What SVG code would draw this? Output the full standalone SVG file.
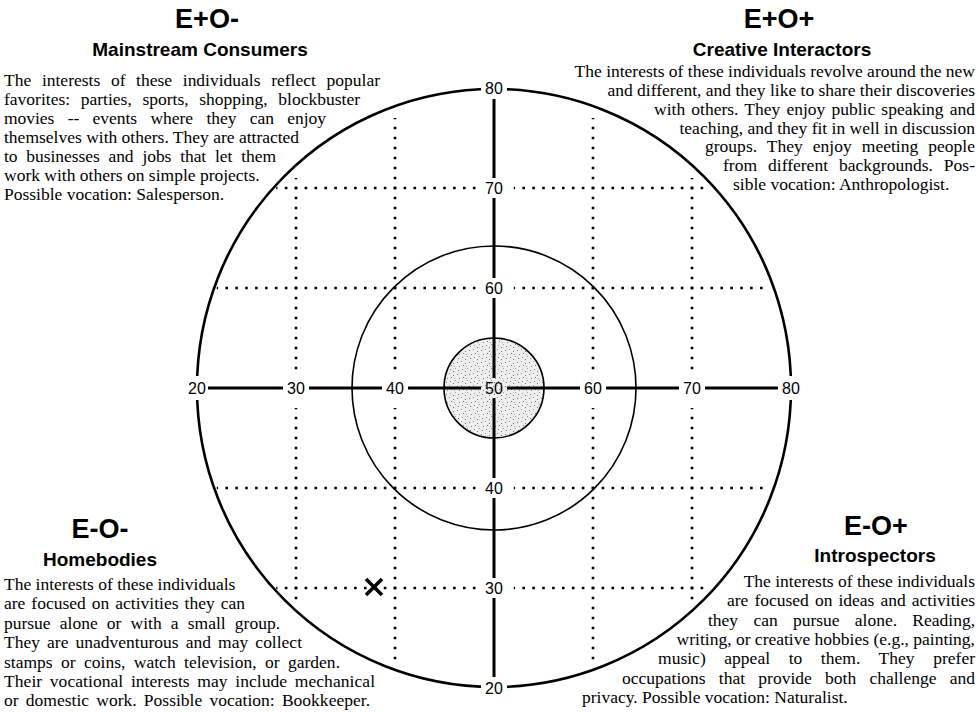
<svg xmlns="http://www.w3.org/2000/svg" width="979" height="712" viewBox="0 0 979 712">
<defs>
<style>
.t{font-family:"Liberation Sans",Arial,sans-serif;font-family:"Liberation Serif","Times New Roman",serif;font-size:17.5px;fill:#000}
.e{text-anchor:end}
.h1{font-family:"Liberation Sans",Arial,sans-serif;font-weight:bold;font-size:27px;text-anchor:middle;fill:#000}
.h2{font-family:"Liberation Sans",Arial,sans-serif;font-weight:bold;font-size:19px;text-anchor:middle;fill:#000}
.n{font-family:"Liberation Sans",Arial,sans-serif;font-size:16px;text-anchor:middle;fill:#000}
.ax{stroke:#000;stroke-width:3;fill:none}
.ring{stroke:#000;fill:none}
.dv{stroke:#000;stroke-width:2.6;stroke-dasharray:2.6 7.4;stroke-dashoffset:1.3;fill:none}
.dh{stroke:#000;stroke-width:2.6;stroke-dasharray:2.6 7.3;stroke-dashoffset:1.3;fill:none}
.gap{fill:#fff}
</style>
<pattern id="stip" width="12" height="12" patternUnits="userSpaceOnUse">
<rect width="12" height="12" fill="#eeeeee"/>
<rect x="1" y="2" width="1" height="1" fill="#777"/>
<rect x="5" y="1" width="1" height="1" fill="#999"/>
<rect x="9" y="3" width="1" height="1" fill="#777"/>
<rect x="3" y="6" width="1" height="1" fill="#888"/>
<rect x="7" y="5" width="1" height="1" fill="#777"/>
<rect x="11" y="8" width="1" height="1" fill="#999"/>
<rect x="2" y="10" width="1" height="1" fill="#777"/>
<rect x="6" y="9" width="1" height="1" fill="#888"/>
<rect x="9" y="11" width="1" height="1" fill="#777"/>
<rect x="10" y="6" width="1" height="1" fill="#aaa"/>
</pattern>
</defs>

<g id="chart">
<ellipse class="ring" cx="494" cy="388" rx="297" ry="299" stroke-width="2.6"/>
<circle class="ring" cx="494" cy="388" r="142" stroke-width="1.6"/>
<circle cx="494" cy="388" r="50" fill="url(#stip)" stroke="#000" stroke-width="1.6"/>
<rect class="gap" x="481" y="80" width="26" height="16"/>
<rect class="gap" x="481" y="680" width="26" height="16"/>
<rect class="gap" x="185" y="376" width="24" height="24"/>
<rect class="gap" x="779" y="376" width="24" height="24"/>
</g>

<g id="connectors">
<path class="dv" d="M296 178V370M296 408V600M395 118V370M395 408V660M593 118V370M593 408V660M692 178V370M692 408V600"/>
<path class="dh" d="M276.2 188H478M513.8 188H705M216.8 288H478M513.8 288H766M216.8 488H478M513.8 488H766M276.2 588H478M513.8 588H705"/>
<path class="ax" d="M208 388H283M309 388H382M408 388H481M507 388H580M606 388H679M705 388H778"/>
<path class="ax" d="M494 99V178M494 198V278M494 298V378M494 398V478M494 498V578M494 598V677"/>
<path d="M366 579L382 595M382 579L366 595" stroke="#000" stroke-width="3.6" fill="none"/>
</g>

<g id="labels">
<text class="n" x="494" y="94">80</text>
<text class="n" x="494" y="194">70</text>
<text class="n" x="494" y="294">60</text>
<text class="n" x="494" y="394">50</text>
<text class="n" x="494" y="494">40</text>
<text class="n" x="494" y="594">30</text>
<text class="n" x="494" y="694">20</text>
<text class="n" x="197" y="394">20</text>
<text class="n" x="296" y="394">30</text>
<text class="n" x="395" y="394">40</text>
<text class="n" x="593" y="394">60</text>
<text class="n" x="692" y="394">70</text>
<text class="n" x="791" y="394">80</text>
</g>

<g id="mainstream">
<text class="h1" x="207" y="28">E+O-</text>
<text class="h2" x="200" y="56">Mainstream Consumers</text>
<text class="t" x="4" y="86" style="word-spacing:6.3px" textLength="376">The interests of these individuals reflect popular</text>
<text class="t" x="4" y="105" style="word-spacing:6.2px" textLength="356">favorites: parties, sports, shopping, blockbuster</text>
<text class="t" x="4" y="124" style="word-spacing:9px" textLength="322">movies -- events where they can enjoy</text>
<text class="t" x="4" y="143">themselves with others. They are attracted</text>
<text class="t" x="4" y="162" style="word-spacing:4.5px" textLength="272">to businesses and jobs that let them</text>
<text class="t" x="4" y="181">work with others on simple projects.</text>
<text class="t" x="4" y="200">Possible vocation: Salesperson.</text>
</g>

<g id="creative">
<text class="h1" x="779" y="28">E+O+</text>
<text class="h2" x="782" y="56">Creative Interactors</text>
<text class="t e" x="975" y="77">The interests of these individuals revolve around the new</text>
<text class="t e" x="975" y="96">and different, and they like to share their discoveries</text>
<text class="t" x="654" y="115" style="word-spacing:1.75px" textLength="321">with others. They enjoy public speaking and</text>
<text class="t e" x="975" y="133.5">teaching, and they fit in well in discussion</text>
<text class="t" x="705" y="152" style="word-spacing:5.6px" textLength="270">groups. They enjoy meeting people</text>
<text class="t" x="723" y="171" style="word-spacing:6.6px" textLength="252">from different backgrounds. Pos-</text>
<text class="t" x="733" y="190">sible vocation: Anthropologist.</text>
</g>

<g id="homebodies">
<text class="h1" x="100" y="538">E-O-</text>
<text class="h2" x="100" y="566">Homebodies</text>
<text class="t" x="4" y="590">The interests of these individuals</text>
<text class="t" x="4" y="609.4" style="word-spacing:1.6px" textLength="241">are focused on activities they can</text>
<text class="t" x="4" y="628.8" style="word-spacing:4.8px" textLength="276">pursue alone or with a small group.</text>
<text class="t" x="4" y="648.2" style="word-spacing:2.8px" textLength="298">They are unadventurous and may collect</text>
<text class="t" x="4" y="667.6" style="word-spacing:4px" textLength="336">stamps or coins, watch television, or garden.</text>
<text class="t" x="4" y="687" style="word-spacing:3.2px" textLength="371">Their vocational interests may include mechanical</text>
<text class="t" x="4" y="706.4" style="word-spacing:2.8px" textLength="366">or domestic work. Possible vocation: Bookkeeper.</text>
</g>

<g id="introspectors">
<text class="h1" x="876" y="535">E-O+</text>
<text class="h2" x="875" y="562">Introspectors</text>
<text class="t e" x="975" y="587">The interests of these individuals</text>
<text class="t" x="727" y="606.3" style="word-spacing:1.7px" textLength="248">are focused on ideas and activities</text>
<text class="t" x="708" y="625.6" style="word-spacing:10.9px" textLength="267">they can pursue alone. Reading,</text>
<text class="t e" x="975" y="644.9">writing, or creative hobbies (e.g., painting,</text>
<text class="t" x="658" y="664.2" style="word-spacing:14.2px" textLength="317">music) appeal to them. They prefer</text>
<text class="t" x="622" y="683.5" style="word-spacing:8.9px" textLength="353">occupations that provide both challenge and</text>
<text class="t" x="582" y="702.8">privacy. Possible vocation: Naturalist.</text>
</g>
</svg>
